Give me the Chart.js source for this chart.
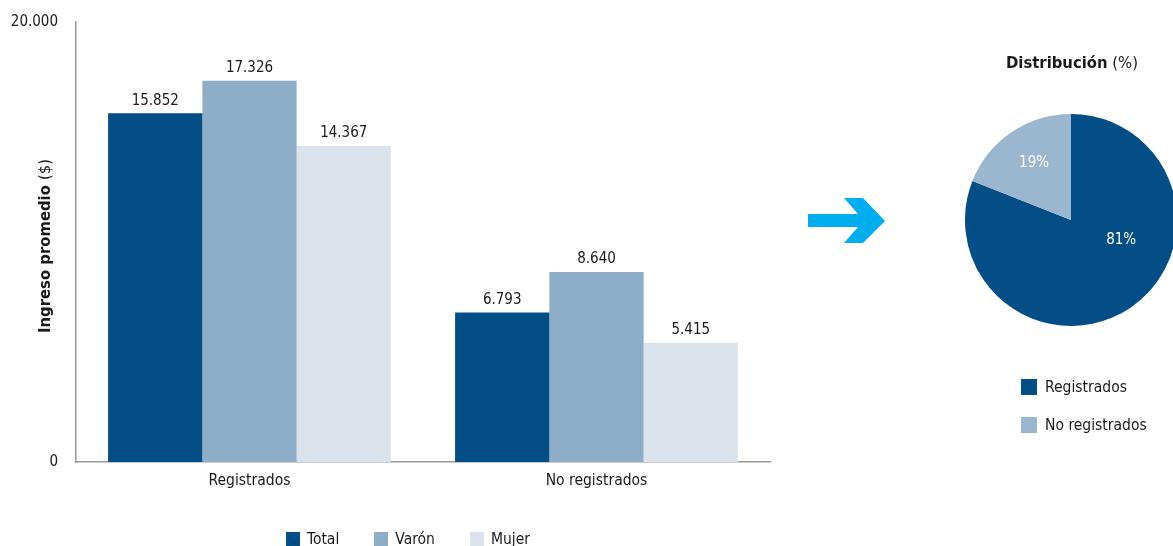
<!DOCTYPE html>
<html lang="es">
<head>
<meta charset="utf-8">
<title>Ingreso promedio</title>
<script src="https://cdn.jsdelivr.net/npm/chart.js@4.4.1/dist/chart.umd.min.js"></script>
<style>
  body {
    margin: 0;
    width: 1173px;
    height: 546px;
    overflow: hidden;
    background: #fff;
    position: relative;
    font-family: 'DejaVu Sans Condensed', 'Liberation Sans Narrow', sans-serif;
    color: #1a1a1a;
  }
  #barChart { position: absolute; left: 0; top: 0; }
  #pieChart { position: absolute; left: 965px; top: 114px; }
  #arrow { position: absolute; left: 0; top: 0; }
  .legend { position: absolute; display: flex; font-size: 15.5px; }
  .legend .item { display: flex; align-items: center; }
  .legend .box { display: inline-block; }
  #barLegend { left: 286px; top: 530px; gap: 35px; }
  #barLegend .box { width: 14px; height: 14px; margin-right: 7px; }
  #pieLegend { left: 1021px; top: 378px; flex-direction: column; gap: 20px; }
  #pieLegend .box { width: 16px; height: 16px; margin-right: 8px; }
  #pieTitle { position: absolute; left: 972px; width: 200px; top: 53px; text-align: center; font-size: 16.5px; }
</style>
</head>
<body>
<canvas id="barChart" width="790" height="546"></canvas>
<svg id="arrow" width="1173" height="546">
  <polygon points="808,214 858,214 844,198 863,198 885,221 863,243 844,243 858,227 808,227" fill="#00AEEF"/>
</svg>
<div id="pieTitle"><b>Distribución</b> (%)</div>
<canvas id="pieChart" width="212" height="212"></canvas>
<div id="barLegend" class="legend"></div>
<div id="pieLegend" class="legend"></div>

<script>
// === Data ===
const categories = ['Registrados', 'No registrados'];
const seriesNames = ['Total', 'Varón', 'Mujer'];
const totalValues = [15852, 6793];
const varonValues = [17326, 8640];
const mujerValues = [14367, 5415];
const yTickValues = [0, 20000];

const pieLabels = ['Registrados', 'No registrados'];
const pieValues = [81, 19];

// === Colors ===
const barColors = ['#034E86', '#8EAEC8', '#DAE3EC'];
const pieColors = ['#034E86', '#9BB7CF'];

const FONT = "'DejaVu Sans Condensed', 'Liberation Sans Narrow', sans-serif";
Chart.defaults.font.family = FONT;
Chart.defaults.font.size = 15;
Chart.defaults.color = '#1a1a1a';

function fmt(n) {
  return String(n).replace(/\B(?=(\d{3})+(?!\d))/g, '.');
}

// values above bars
const valueLabels = {
  id: 'valueLabels',
  afterDatasetsDraw(chart) {
    const ctx = chart.ctx;
    ctx.save();
    ctx.font = '15px ' + FONT;
    ctx.fillStyle = '#1a1a1a';
    ctx.textAlign = 'center';
    ctx.textBaseline = 'bottom';
    chart.data.datasets.forEach((ds, i) => {
      chart.getDatasetMeta(i).data.forEach((bar, j) => {
        ctx.fillText(fmt(ds.data[j]), bar.x, bar.y - 5);
      });
    });
    ctx.restore();
  }
};

// rotated y title with mixed weights
const yTitle = {
  id: 'yTitle',
  afterDraw(chart) {
    const ctx = chart.ctx;
    const area = chart.chartArea;
    const boldPart = 'Ingreso promedio ';
    const normalPart = '($)';
    ctx.save();
    ctx.translate(46, (area.top + area.bottom) / 2 + 4);
    ctx.rotate(-Math.PI / 2);
    ctx.textBaseline = 'middle';
    ctx.textAlign = 'left';
    ctx.fillStyle = '#1a1a1a';
    ctx.font = 'bold 16.5px ' + FONT;
    const w1 = ctx.measureText(boldPart).width;
    ctx.font = '16.5px ' + FONT;
    const w2 = ctx.measureText(normalPart).width;
    let x = -(w1 + w2) / 2;
    ctx.font = 'bold 16.5px ' + FONT;
    ctx.fillText(boldPart, x, 0);
    ctx.font = '16.5px ' + FONT;
    ctx.fillText(normalPart, x + w1, 0);
    ctx.restore();
  }
};

// === Bar Chart ===
new Chart(document.getElementById('barChart'), {
  type: 'bar',
  data: {
    labels: categories,
    datasets: [
      { label: seriesNames[0], data: totalValues, backgroundColor: barColors[0] },
      { label: seriesNames[1], data: varonValues, backgroundColor: barColors[1] },
      { label: seriesNames[2], data: mujerValues, backgroundColor: barColors[2] }
    ]
  },
  options: {
    responsive: false,
    animation: false,
    categoryPercentage: 0.815,
    barPercentage: 1.0,
    layout: { padding: { top: 22, right: 20, left: 0, bottom: 0 } },
    plugins: {
      legend: { display: false },
      tooltip: { enabled: false }
    },
    scales: {
      x: {
        grid: { display: false, drawTicks: false },
        border: { color: '#9a9a9a', width: 1.5 },
        ticks: { padding: 10, font: { size: 15.5 } },
        afterFit(scale) { scale.height = 84; }
      },
      y: {
        min: yTickValues[0],
        max: yTickValues[yTickValues.length - 1],
        afterBuildTicks(scale) {
          scale.ticks = yTickValues.map(v => ({ value: v }));
        },
        grid: { display: false, drawTicks: false },
        border: { color: '#9a9a9a', width: 1.5 },
        ticks: { padding: 18, font: { size: 15 }, callback: v => fmt(v) },
        afterFit(scale) {
          scale.width = 76;
          scale.paddingTop = 0;
          scale.paddingBottom = 0;
        }
      }
    }
  },
  plugins: [valueLabels, yTitle]
});

// pie percentage labels
const pieLabelPos = [{ angle: 111.8, r: 0.51 }, { angle: -33, r: 0.64 }];
const pieValueLabels = {
  id: 'pieValueLabels',
  afterDatasetsDraw(chart) {
    const ctx = chart.ctx;
    const meta = chart.getDatasetMeta(0);
    ctx.save();
    ctx.font = '15px ' + FONT;
    ctx.fillStyle = '#ffffff';
    ctx.textAlign = 'center';
    ctx.textBaseline = 'middle';
    meta.data.forEach((arc, i) => {
      const p = pieLabelPos[i];
      const a = p.angle * Math.PI / 180;
      const x = arc.x + Math.sin(a) * arc.outerRadius * p.r;
      const y = arc.y - Math.cos(a) * arc.outerRadius * p.r;
      ctx.fillText(pieValues[i] + '%', x, y);
    });
    ctx.restore();
  }
};

// === Pie Chart ===
new Chart(document.getElementById('pieChart'), {
  type: 'pie',
  data: {
    labels: pieLabels,
    datasets: [{ data: pieValues, backgroundColor: pieColors, borderWidth: 0 }]
  },
  options: {
    responsive: false,
    animation: false,
    layout: { padding: 0 },
    plugins: {
      legend: { display: false },
      tooltip: { enabled: false }
    }
  },
  plugins: [pieValueLabels]
});

// === HTML Legends ===
function buildLegend(el, names, colors) {
  names.forEach((name, i) => {
    const item = document.createElement('div');
    item.className = 'item';
    const box = document.createElement('span');
    box.className = 'box';
    box.style.background = colors[i];
    const txt = document.createElement('span');
    txt.textContent = name;
    item.appendChild(box);
    item.appendChild(txt);
    el.appendChild(item);
  });
}
buildLegend(document.getElementById('barLegend'), seriesNames, barColors);
buildLegend(document.getElementById('pieLegend'), pieLabels, pieColors);
</script>
</body>
</html>
